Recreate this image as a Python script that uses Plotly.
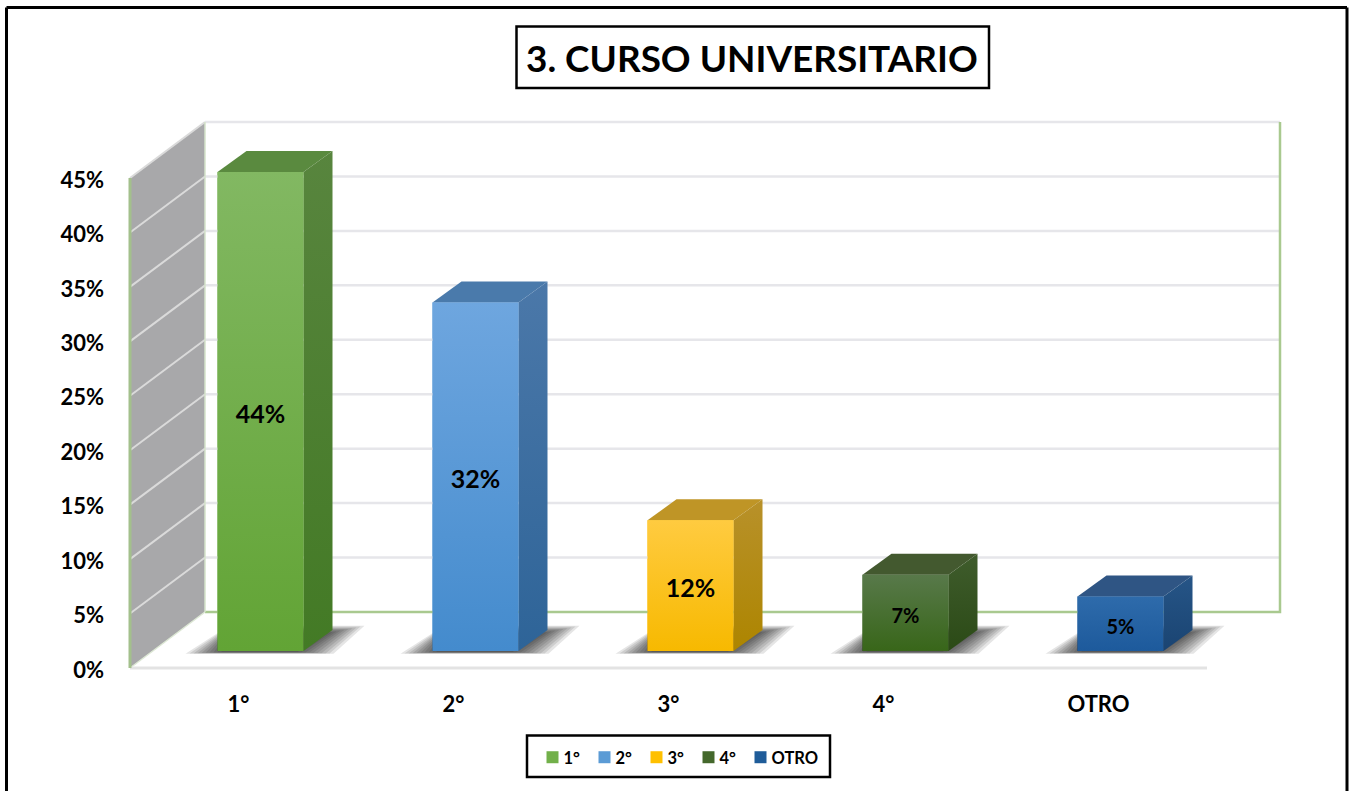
import plotly.graph_objects as go

categories = ["1°", "2°", "3°", "4°", "OTRO"]
values = [44, 32, 12, 7, 5]
y_ticks = [0, 5, 10, 15, 20, 25, 30, 35, 40, 45]
y_tick_labels = ["0%", "5%", "10%", "15%", "20%", "25%", "30%", "35%", "40%", "45%"]
swatch_colors = ["#72B04A", "#5B9BD5", "#FFC000", "#44682C", "#1F5C99"]
front_top = ["#82B862", "#6EA6DF", "#FFCB40", "#58794A", "#2E6BAB"]
front_bottom = ["#62A435", "#448BCD", "#F7B900", "#386619", "#1D5A9C"]
side_top = ["#58853E", "#4B78A9", "#B8912A", "#3F5C2C", "#265587"]
side_bottom = ["#437A25", "#2E6498", "#AD8500", "#2B4A16", "#1A4472"]
top_face = ["#5A8A3F", "#4A7AAB", "#BF9526", "#43592F", "#2F5584"]
label_sizes = [25, 25, 25, 20, 20]

W, H = 1353, 791
PX_X = 215.0            # px per category
PX_Y = 490.0 / 45       # px per percent
X0_PX = 260.5           # px of first bar centre
AX_L, AX_R, AX_B = 130, 1207, 668
PLOT_L, PLOT_R, PLOT_T, PLOT_B = 125, 1300, 100, 673
FLOOR = 17 / PX_Y       # bars stand forward of the axis plane
HALF = 43 / PX_X
DX, DY = 29 / PX_X, 21 / PX_Y
WX, WY = 75 / PX_X, 56 / PX_Y
XL = (AX_L - X0_PX) / PX_X
XR = (AX_R - X0_PX) / PX_X
WALL_R = (1280 - X0_PX) / PX_X


def px(x):
    return x / W


def py(y):
    return 1 - y / H


fig = go.Figure()


def poly(xs, ys, color=None, grad=None):
    kw = dict(x=list(xs) + [xs[0]], y=list(ys) + [ys[0]], mode="lines", fill="toself",
              line=dict(width=0), showlegend=False, hoverinfo="skip")
    if grad:
        kw["fillgradient"] = dict(type="vertical", colorscale=[[0, grad[1]], [1, grad[0]]])
        kw["fillcolor"] = grad[0]
    else:
        kw["fillcolor"] = color
    fig.add_trace(go.Scatter(**kw))


def line(xs, ys, color, width):
    fig.add_trace(go.Scatter(x=xs, y=ys, mode="lines", line=dict(color=color, width=width),
                             showlegend=False, hoverinfo="skip"))


# real bars: legend swatches and base of the front faces
for i, c in enumerate(categories):
    fig.add_trace(go.Bar(x=[i], y=[values[i]], base=[FLOOR], width=2 * HALF, name=c,
                         marker=dict(color=swatch_colors[i], line=dict(width=0)),
                         hoverinfo="skip"))

# left wall
poly([XL, XL + WX, XL + WX, XL], [0, WY, 45 + WY, 45], color="#A8A8AA")
# wall grid
for t in y_ticks[1:]:
    line([XL, XL + WX], [t, t + WY], "#DADADA", 2)
    line([XL + WX, WALL_R], [t + WY, t + WY], "#E6E6EA", 2.5)
# wall edges
line([XL + WX, WALL_R, WALL_R], [WY, WY, 45 + WY], "#A9C98F", 2.5)
line([XL + WX, XL + WX], [WY, 45 + WY], "#D5E3CA", 1.5)
line([XL, XL + WX], [0, WY], "#DDE8D5", 1.5)
line([XL, XR], [0, 0], "#E3E3E3", 3)
line([XL, XL], [0, 45], "#A3C08C", 3)

# floor shadows and bars
for i, v in enumerate(values):
    L, R = i - HALF, i + HALF
    b, t = FLOOR, FLOOR + v
    for grow in [3, 1, -1, -3, -5, -7, -9, -11, -13, -15]:
        gx = 2 * grow / PX_X
        gt, gb = 0.4 * grow / PX_Y, 0.1 * grow / PX_Y
        xs = [L - 26 / PX_X - gx, L + DX * 0.4, R + DX + 26 / PX_X + gx, R + 24 / PX_X + gx]
        ys = [b - 2.5 / PX_Y - gb, b + DY + 3 / PX_Y + gt, b + DY + 3 / PX_Y + gt, b - 2.5 / PX_Y - gb]
        poly(xs, ys, color="rgba(20,20,20,0.11)")
    poly([L, L + DX, R + DX, R], [t, t + DY, t + DY, t], color=top_face[i])
    poly([R, R + DX, R + DX, R], [b, b + DY, t + DY, t], grad=(side_top[i], side_bottom[i]))
    poly([L, R, R, L], [b, b, t, t], grad=(front_top[i], front_bottom[i]))

# data labels
fig.add_trace(go.Scatter(
    x=list(range(len(values))), y=[FLOOR + v / 2 - 0.5 for v in values], mode="text",
    text=[f"{v}%" for v in values], textposition="middle center",
    textfont=dict(family="Lato", size=label_sizes, color="#000000", weight=700),
    showlegend=False, hoverinfo="skip"))

shapes = [
    dict(type="line", xref="paper", yref="paper", x0=px(6.5), x1=px(6.5), y0=py(791), y1=py(7.5),
         line=dict(color="#000", width=3)),
    dict(type="line", xref="paper", yref="paper", x0=px(6.5), x1=px(1347), y0=py(7.5), y1=py(7.5),
         line=dict(color="#000", width=3)),
    dict(type="line", xref="paper", yref="paper", x0=px(1347), x1=px(1347), y0=py(7.5), y1=py(791),
         line=dict(color="#000", width=3)),
    dict(type="rect", xref="paper", yref="paper", x0=px(516.5), x1=px(989), y0=py(88), y1=py(26.5),
         line=dict(color="#000", width=2.5), fillcolor="#FFF"),
    dict(type="rect", xref="paper", yref="paper", x0=px(527), x1=px(830), y0=py(777), y1=py(735.5),
         line=dict(color="#000", width=2.5), fillcolor="#FFF", layer="below"),
]

fig.update_layout(
    width=W, height=H, margin=dict(l=0, r=0, t=0, b=0, autoexpand=False),
    paper_bgcolor="#FFFFFF", plot_bgcolor="rgba(0,0,0,0)",
    barmode="overlay", shapes=shapes,
    font=dict(family="Lato", color="#000000"),
    xaxis=dict(domain=[px(PLOT_L), px(PLOT_R)],
               range=[(PLOT_L - X0_PX) / PX_X, (PLOT_R - X0_PX) / PX_X],
               tickvals=[i - 22 / PX_X for i in range(len(categories))], ticktext=categories,
               showgrid=False, zeroline=False, showline=False,
               ticks="", ticklabelstandoff=16,
               tickfont=dict(family="Lato", size=22, color="#000", weight=700)),
    yaxis=dict(domain=[py(PLOT_B), py(PLOT_T)],
               range=[(AX_B - PLOT_B) / PX_Y, (AX_B - PLOT_T) / PX_Y],
               tickvals=y_ticks, ticktext=y_tick_labels,
               showgrid=False, zeroline=False, showline=False,
               ticks="", ticklabelstandoff=20, ticklabelshift=2,
               tickfont=dict(family="Lato", size=22, color="#000", weight=700)),
    legend=dict(orientation="h", x=px(523.5), xanchor="left", y=py(740), yanchor="top",
                bgcolor="rgba(0,0,0,0)", borderwidth=0, traceorder="normal",
                entrywidth=7, entrywidthmode="pixels",
                font=dict(family="Lato", size=16.5, color="#000", weight=700)),
    annotations=[dict(text="3. CURSO UNIVERSITARIO", xref="paper", yref="paper",
                      x=px(751.5), y=py(58), xanchor="center", yanchor="middle", showarrow=False,
                      font=dict(family="Lato", size=36.9, color="#000", weight=700))],
)

post = """
document.body.style.margin='0';
document.querySelectorAll('.legendsymbols').forEach(function(g){g.setAttribute('transform','translate(9,0)');});
document.querySelectorAll('.legend .scrollbox').forEach(function(g){g.removeAttribute('clip-path');g.style.clipPath='none';});
"""
fig.write_html("out.html", post_script=post, config=dict(displayModeBar=False))
